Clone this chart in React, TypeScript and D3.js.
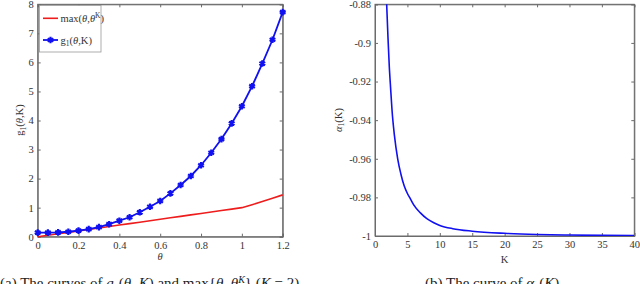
import React, { useEffect, useRef } from 'react';
import * as d3 from 'd3';

// left panel: g1(theta, K) vs max(theta, theta^K), K = 2
const theta = [0, 0.05, 0.1, 0.15, 0.2, 0.25, 0.3, 0.35, 0.4, 0.45, 0.5, 0.55, 0.6,
  0.65, 0.7, 0.75, 0.8, 0.85, 0.9, 0.95, 1.0, 1.05, 1.1, 1.15, 1.2];
const g1 = [0.14, 0.14, 0.15, 0.17, 0.21, 0.26, 0.33, 0.43, 0.55, 0.67, 0.84, 1.03, 1.23,
  1.49, 1.78, 2.09, 2.46, 2.89, 3.36, 3.9, 4.49, 5.18, 5.96, 6.78, 7.73];
const maxTheta = [0, 0.05, 0.1, 0.15, 0.2, 0.25, 0.3, 0.35, 0.4, 0.45, 0.5, 0.55, 0.6,
  0.65, 0.7, 0.75, 0.8, 0.85, 0.9, 0.95, 1.0, 1.1025, 1.21, 1.3225, 1.44];
const thetaTicks = [0, 0.2, 0.4, 0.6, 0.8, 1, 1.2];
const gTicks = [0, 1, 2, 3, 4, 5, 6, 7, 8];

// right panel: alpha1(K)
const kVals = [1.7, 1.8, 2.0, 2.2, 2.4, 2.7, 3.0, 3.5, 4.0, 4.5, 5, 5.5, 6, 7, 8, 9, 10, 12, 15, 20, 25, 30, 35, 40];
const alpha = [-0.87, -0.88, -0.897, -0.912, -0.923, -0.938, -0.948, -0.96, -0.968, -0.974, -0.978,
  -0.981, -0.984, -0.988, -0.991, -0.993, -0.9945, -0.9962, -0.9975, -0.9986, -0.9992, -0.9995, -0.9997, -0.9998];
const kTicks = [0, 5, 10, 15, 20, 25, 30, 35, 40];
const alphaTicks = [-1, -0.98, -0.96, -0.94, -0.92, -0.9, -0.88];

const FONT = '"Liberation Serif", "Times New Roman", serif';
const AXIS = '#6b6b6b';
const TXT = '#333';

function App() {
  const svgRef = useRef() as React.RefObject<SVGSVGElement>;

  useEffect(() => {
    const svg = d3.select(svgRef.current).attr('font-family', FONT);
    svg.selectAll('*').remove();

    const panel = (
      x: d3.ScaleLinear<number, number>, y: d3.ScaleLinear<number, number>,
      xt: number[], yt: number[], fmt: (v: number) => string
    ) => {
      const [x0, x1] = x.range();
      const [y0, y1] = y.range();
      const g = svg.append('g');
      g.append('rect').attr('x', x0).attr('y', y1).attr('width', x1 - x0).attr('height', y0 - y1)
        .attr('fill', '#fff').attr('stroke', AXIS).attr('stroke-width', 1);
      const axes = [
        g.append('g').attr('transform', `translate(0,${y0})`).call(d3.axisBottom(x).tickValues(xt).tickSize(-3).tickPadding(5).tickFormat(d => fmt(+d))),
        g.append('g').attr('transform', `translate(${x0},0)`).call(d3.axisLeft(y).tickValues(yt).tickSize(-3).tickPadding(4).tickFormat(d => fmt(+d))),
        g.append('g').attr('transform', `translate(0,${y1})`).call(d3.axisTop(x).tickValues(xt).tickSize(-3).tickFormat(() => '')),
        g.append('g').attr('transform', `translate(${x1},0)`).call(d3.axisRight(y).tickValues(yt).tickSize(-3).tickFormat(() => '')),
      ];
      axes.forEach(a => {
        a.attr('font-family', FONT).attr('font-size', 10.5);
        a.select('.domain').attr('stroke', AXIS);
        a.selectAll('line').attr('stroke', AXIS);
        a.selectAll('text').attr('fill', TXT).style('font-family', FONT);
      });
      return g;
    };

    // ---------- left ----------
    const xL = d3.scaleLinear().domain([0, 1.2]).range([37.7, 282.7]);
    const yL = d3.scaleLinear().domain([0, 8]).range([236.7, 4.3]);
    const gL = panel(xL, yL, thetaTicks, gTicks, v => String(v));

    gL.append('path').attr('fill', 'none').attr('stroke', '#ee1c1c').attr('stroke-width', 1.6)
      .attr('d', d3.line<number>().x((_, i) => xL(theta[i])).y(d => yL(d))(maxTheta));
    gL.append('path').attr('fill', 'none').attr('stroke', '#1010f0').attr('stroke-width', 1.8)
      .attr('d', d3.line<number>().x((_, i) => xL(theta[i])).y(d => yL(d))(g1));
    const star = d3.symbol().type(d3.symbolAsterisk).size(30);
    gL.selectAll('.mk').data(g1).join('path').attr('class', 'mk')
      .attr('transform', (d, i) => `translate(${xL(theta[i])},${yL(d)})`)
      .attr('d', star()).attr('fill', 'none').attr('stroke', '#1010f0').attr('stroke-width', 2.2);

    // legend
    const lg = gL.append('g').attr('font-size', 10.5);
    lg.append('rect').attr('x', 39.5).attr('y', 5.5).attr('width', 61.5).attr('height', 46.5)
      .attr('fill', '#fff').attr('stroke', '#9a9a9a').attr('stroke-width', 0.8);
    lg.append('line').attr('x1', 43).attr('x2', 58).attr('y1', 18.3).attr('y2', 18.3)
      .attr('stroke', '#ee1c1c').attr('stroke-width', 1.6);
    lg.append('line').attr('x1', 43).attr('x2', 58).attr('y1', 40).attr('y2', 40)
      .attr('stroke', '#1010f0').attr('stroke-width', 1.8);
    lg.append('path').attr('transform', 'translate(50.5,40)').attr('d', star())
      .attr('fill', 'none').attr('stroke', '#1010f0').attr('stroke-width', 2.2);
    const t1 = lg.append('text').attr('x', 60.5).attr('y', 22).attr('fill', TXT);
    t1.append('tspan').text('max(');
    t1.append('tspan').attr('font-style', 'italic').text('θ');
    t1.append('tspan').text(',');
    t1.append('tspan').attr('font-style', 'italic').text('θ');
    t1.append('tspan').attr('font-size', '7.5px').attr('dy', -4).text('K');
    t1.append('tspan').attr('dy', 4).text(')');
    const t2 = lg.append('text').attr('x', 60.5).attr('y', 43.5).attr('fill', TXT);
    t2.append('tspan').text('g');
    t2.append('tspan').attr('font-size', '7.5px').attr('dy', 2.5).text('1');
    t2.append('tspan').attr('dy', -2.5).text('(');
    t2.append('tspan').attr('font-style', 'italic').text('θ');
    t2.append('tspan').text(',K)');

    // axis labels
    svg.append('text').attr('x', 160.2).attr('y', 259.5).attr('text-anchor', 'middle').attr('font-size', 10.5)
      .attr('fill', TXT).attr('font-style', 'italic').text('θ');
    const yl = svg.append('text').attr('transform', 'translate(23,120) rotate(-90)').attr('text-anchor', 'middle')
      .attr('fill', TXT).attr('font-size', 10.5);
    yl.append('tspan').text('g');
    yl.append('tspan').attr('font-size', '7.5px').attr('dy', 2.5).text('1');
    yl.append('tspan').attr('dy', -2.5).text('(');
    yl.append('tspan').attr('font-style', 'italic').text('θ');
    yl.append('tspan').text(',K)');

    // ---------- right ----------
    const xR = d3.scaleLinear().domain([0, 40]).range([375, 634.3]);
    const yR = d3.scaleLinear().domain([-1, -0.88]).range([236, 4.3]);
    const gR = panel(xR, yR, kTicks, alphaTicks, v => String(+v.toFixed(2)));
    svg.append('clipPath').attr('id', 'clipR').append('rect')
      .attr('x', 375).attr('y', 4.3).attr('width', 634.3 - 375).attr('height', 236 - 4.3);
    gR.append('path').attr('clip-path', 'url(#clipR)').attr('fill', 'none').attr('stroke', '#1010f0')
      .attr('stroke-width', 1.6)
      .attr('d', d3.line<number>().x((_, i) => xR(kVals[i])).y(d => yR(d)).curve(d3.curveMonotoneX)(alpha));

    svg.append('text').attr('x', 504.6).attr('y', 262.5).attr('text-anchor', 'middle').attr('font-size', 10.5)
      .attr('fill', TXT).text('K');
    const ar = svg.append('text').attr('transform', 'translate(341.5,120) rotate(-90)').attr('text-anchor', 'middle')
      .attr('fill', TXT).attr('font-size', 10.5);
    ar.append('tspan').attr('font-style', 'italic').text('α');
    ar.append('tspan').attr('font-size', '7.5px').attr('dy', 2.5).text('1');
    ar.append('tspan').attr('dy', -2.5).text('(K)');

    // ---------- captions (cut off at bottom edge, as in the source figure) ----------
    const ca = svg.append('text').attr('x', 0).attr('y', 288).attr('fill', '#222').attr('font-size', 15);
    ca.append('tspan').text('(a) The curves of ');
    ca.append('tspan').attr('font-style', 'italic').text('g');
    ca.append('tspan').attr('font-size', '10px').attr('dy', 3).text('1');
    ca.append('tspan').attr('dy', -3).text('(');
    ca.append('tspan').attr('font-style', 'italic').text('θ, K');
    ca.append('tspan').text(') and max{');
    ca.append('tspan').attr('font-style', 'italic').text('θ, θ');
    ca.append('tspan').attr('font-style', 'italic').attr('font-size', '10px').attr('dy', -5).text('K');
    ca.append('tspan').attr('dy', 5).text('} (');
    ca.append('tspan').attr('font-style', 'italic').text('K');
    ca.append('tspan').text(' = 2)');

    const cb = svg.append('text').attr('x', 425).attr('y', 288).attr('fill', '#222').attr('font-size', 15);
    cb.append('tspan').text('(b) The curve of ');
    cb.append('tspan').attr('font-style', 'italic').text('α');
    cb.append('tspan').attr('font-size', '10px').attr('dy', 3).text('1');
    cb.append('tspan').attr('dy', -3).text('(');
    cb.append('tspan').attr('font-style', 'italic').text('K');
    cb.append('tspan').text(')');
  }, []);

  return (
    <div style={{ position: 'absolute', left: 0, top: 0 }}>
      <svg ref={svgRef} width={640} height={284} style={{ display: 'block', background: '#fff' }}></svg>
    </div>
  );
}

export default App;
